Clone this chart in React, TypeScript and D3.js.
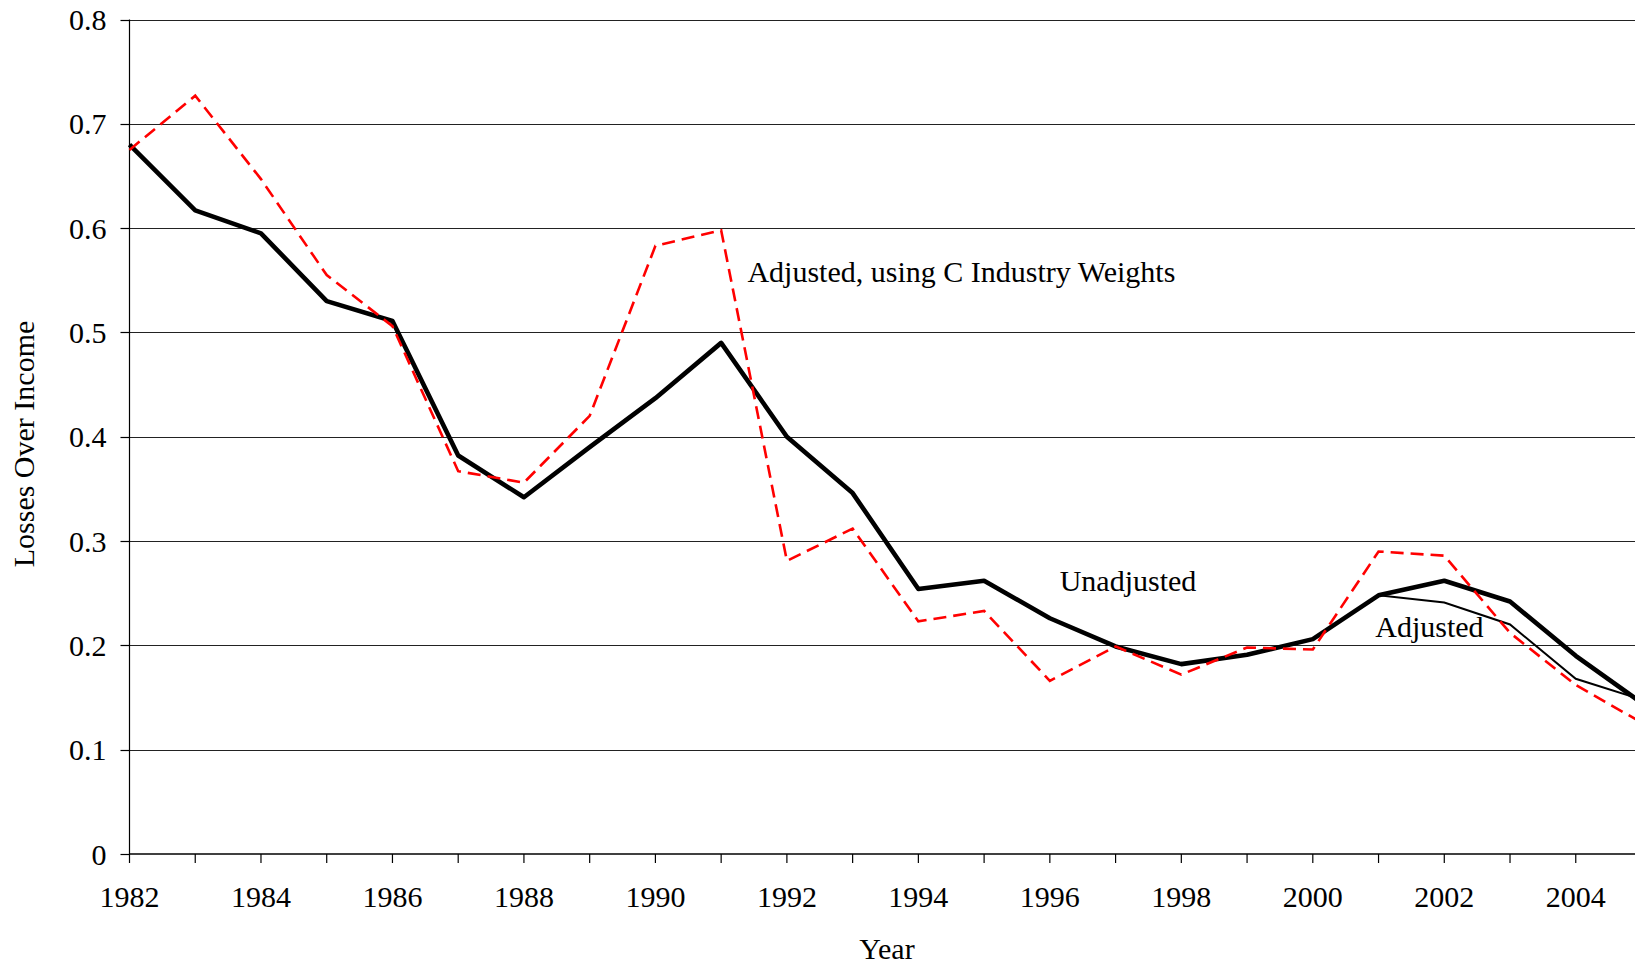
import React, { useEffect, useRef } from 'react';
import * as d3 from 'd3';

const years = [1982, 1983, 1984, 1985, 1986, 1987, 1988, 1989, 1990, 1991, 1992, 1993,
  1994, 1995, 1996, 1997, 1998, 1999, 2000, 2001, 2002, 2003, 2004, 2005];

const unadjusted = [0.680, 0.617, 0.595, 0.530, 0.511, 0.382, 0.342, 0.390, 0.437, 0.490, 0.400, 0.346,
  0.254, 0.262, 0.226, 0.199, 0.182, 0.191, 0.206, 0.248, 0.262, 0.242, 0.190, 0.145];

// thin line, same as unadjusted until 2001
const adjusted = [0.680, 0.617, 0.595, 0.530, 0.511, 0.382, 0.342, 0.390, 0.437, 0.490, 0.400, 0.346,
  0.254, 0.262, 0.226, 0.199, 0.182, 0.191, 0.206, 0.248, 0.241, 0.220, 0.168, 0.148];

const industryWeights = [0.675, 0.727, 0.647, 0.555, 0.506, 0.367, 0.356, 0.420, 0.583, 0.598, 0.281, 0.312,
  0.223, 0.233, 0.166, 0.199, 0.172, 0.198, 0.196, 0.290, 0.286, 0.212, 0.162, 0.126];

const yTicks = [0, 0.1, 0.2, 0.3, 0.4, 0.5, 0.6, 0.7, 0.8];
const xLabelYears = [1982, 1984, 1986, 1988, 1990, 1992, 1994, 1996, 1998, 2000, 2002, 2004];

const labels = [
  { text: 'Adjusted, using C Industry Weights', year: 1991.4, value: 0.548 },
  { text: 'Unadjusted', year: 1996.15, value: 0.252 },
  { text: 'Adjusted', year: 2000.95, value: 0.208 },
];

export default function App() {
  const svgRef = useRef<SVGSVGElement>(null);

  useEffect(() => {
    if (!svgRef.current) return;
    const width = 1635;
    const height = 967;
    const font = '"Liberation Serif", "Times New Roman", serif';
    const fontSize = '30px';

    const svg = d3.select(svgRef.current);
    svg.selectAll('*').remove();
    svg.attr('width', width).attr('height', height);

    const x = d3.scaleLinear().domain([1982, 2005]).range([129.5, 1641.5]);
    const y = d3.scaleLinear().domain([0, 0.8]).range([854, 19.5]);

    // gridlines
    svg.append('g')
      .selectAll('line')
      .data(yTicks.filter(d => d > 0))
      .enter()
      .append('line')
      .attr('x1', x(1982))
      .attr('x2', width)
      .attr('y1', d => Math.round(y(d)) + 0.5)
      .attr('y2', d => Math.round(y(d)) + 0.5)
      .attr('stroke', '#222')
      .attr('stroke-width', 1.2);

    // y axis
    const yAxis = svg.append('g').attr('transform', `translate(${x(1982)},0)`);
    yAxis.append('line')
      .attr('y1', y(0.8)).attr('y2', y(0))
      .attr('stroke', '#000').attr('stroke-width', 1.2);
    yAxis.selectAll('line.tick')
      .data(yTicks)
      .enter()
      .append('line')
      .attr('class', 'tick')
      .attr('x1', -9).attr('x2', 0)
      .attr('y1', d => Math.round(y(d)) + 0.5)
      .attr('y2', d => Math.round(y(d)) + 0.5)
      .attr('stroke', '#000').attr('stroke-width', 1.2);
    yAxis.selectAll('text')
      .data(yTicks)
      .enter()
      .append('text')
      .attr('x', -23)
      .attr('y', d => y(d))
      .attr('dy', '0.35em')
      .attr('text-anchor', 'end')
      .style('font-family', font)
      .style('font-size', fontSize)
      .text(d => (d === 0 ? '0' : d.toFixed(1)));

    // x axis
    const xAxis = svg.append('g').attr('transform', `translate(0,${y(0)})`);
    xAxis.append('line')
      .attr('x1', x(1982)).attr('x2', width)
      .attr('stroke', '#000').attr('stroke-width', 1.5);
    xAxis.selectAll('line.tick')
      .data(years)
      .enter()
      .append('line')
      .attr('class', 'tick')
      .attr('x1', d => x(d)).attr('x2', d => x(d))
      .attr('y1', 0).attr('y2', 9)
      .attr('stroke', '#000').attr('stroke-width', 1.2);
    xAxis.selectAll('text')
      .data(xLabelYears)
      .enter()
      .append('text')
      .attr('x', d => x(d))
      .attr('y', 53)
      .attr('text-anchor', 'middle')
      .style('font-family', font)
      .style('font-size', fontSize)
      .text(d => d);

    // axis titles
    svg.append('text')
      .attr('x', 887)
      .attr('y', 959)
      .attr('text-anchor', 'middle')
      .style('font-family', font)
      .style('font-size', fontSize)
      .text('Year');

    svg.append('text')
      .attr('transform', 'translate(34,444) rotate(-90)')
      .attr('text-anchor', 'middle')
      .style('font-family', font)
      .style('font-size', fontSize)
      .text('Losses Over Income');

    const line = d3.line<number>()
      .x((_, i) => x(years[i]))
      .y(d => y(d));

    svg.append('path')
      .attr('d', line(adjusted))
      .attr('fill', 'none')
      .attr('stroke', '#000')
      .attr('stroke-width', 2);

    svg.append('path')
      .attr('d', line(unadjusted))
      .attr('fill', 'none')
      .attr('stroke', '#000')
      .attr('stroke-width', 4.6)
      .attr('stroke-linejoin', 'round');

    svg.append('path')
      .attr('d', line(industryWeights))
      .attr('fill', 'none')
      .attr('stroke', '#ff0000')
      .attr('stroke-width', 2.6)
      .attr('stroke-dasharray', '13,7');

    svg.selectAll('text.label')
      .data(labels)
      .enter()
      .append('text')
      .attr('class', 'label')
      .attr('x', d => x(d.year))
      .attr('y', d => y(d.value))
      .style('font-family', font)
      .style('font-size', fontSize)
      .text(d => d.text);
  }, []);

  return (
    <div style={{ position: 'absolute', left: 0, top: 0, background: '#fff' }}>
      <svg ref={svgRef} style={{ display: 'block' }}></svg>
    </div>
  );
}
